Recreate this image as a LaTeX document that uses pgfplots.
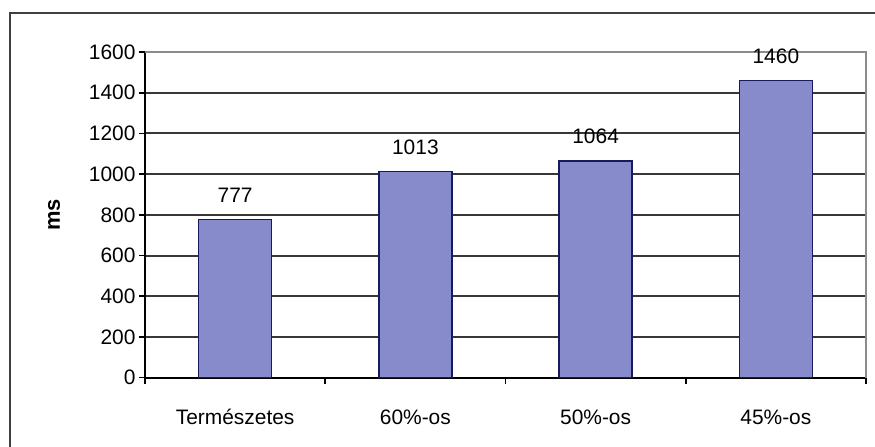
\documentclass[border=0pt]{standalone}
\usepackage{pgfplots}
\pgfplotsset{compat=1.18}
\usepackage{fontspec}
\setmainfont{Liberation Sans}
\definecolor{barfill}{RGB}{136,139,203}
\definecolor{baredge}{RGB}{25,25,95}
\definecolor{gridc}{RGB}{55,55,55}
\begin{document}
\begin{tikzpicture}[x=1bp,y=1bp]
\useasboundingbox (-145,-69.3) rectangle (730,377.7);
\draw[line width=2bp, black!75] (-135,-90) -- (-135,364.7) -- (760,364.7);
\begin{axis}[
  at={(0,0)}, anchor=south west,
  width=721bp, height=325.7bp, scale only axis,
  xmin=0, xmax=4, ymin=0, ymax=1600,
  ytick={0,200,...,1600},
  xtick={0,1,2,3,4},
  x tick label as interval,
  xticklabels={Természetes,60\%-os,50\%-os,45\%-os},
  axis x line*=bottom, axis y line*=left,
  axis line style={line width=1.8bp, black, -},
  tick align=outside,
  major tick length=6bp,
  tick style={line width=1.6bp, black},
  ymajorgrids,
  grid style={line width=1.9bp, gridc},
  ybar, bar width=0.405,
  ylabel={\bfseries ms},
  ylabel style={at={(axis description cs:-0.126,0.5)}, anchor=center},
  tick label style={font=\fontsize{21}{24}\selectfont},
  xticklabel style={text height=0.78em, text depth=0.22em, anchor=north, yshift=-30bp},
  label style={font=\fontsize{22}{24}\selectfont},
  /pgf/number format/assume math mode=true,
  /pgf/number format/1000 sep={},
  nodes near coords,
  nodes near coords style={font=\fontsize{21}{24}\selectfont, yshift=13bp},
  clip=false,
]
\addplot[fill=barfill, draw=baredge, line width=1.4bp] coordinates {(0.5,777) (1.5,1013) (2.5,1064) (3.5,1460)};
\draw[line width=1.8bp, black!45] (axis cs:0,1600) -- (axis cs:4,1600) -- (axis cs:4,0);
\end{axis}
\end{tikzpicture}
\end{document}
